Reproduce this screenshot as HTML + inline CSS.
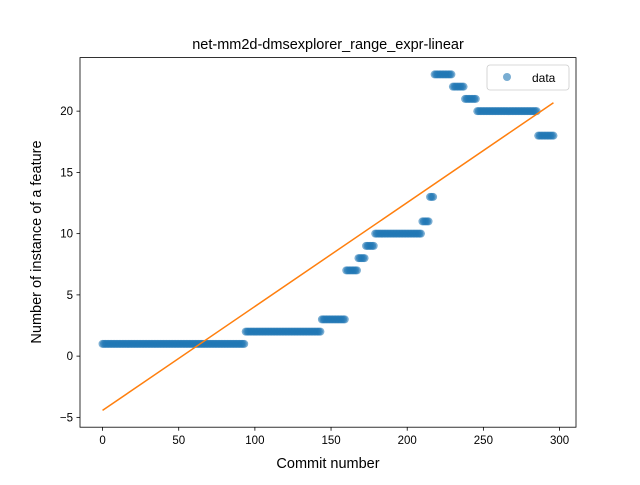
<!DOCTYPE html>
<html><head><meta charset="utf-8"><style>
body{margin:0;background:#fff;}
svg text{font-family:"Liberation Sans","DejaVu Sans",sans-serif;}
</style></head><body>
<svg id="chart" width="640" height="480" viewBox="0 0 640 480" xmlns="http://www.w3.org/2000/svg">
<rect width="640" height="480" fill="#fff"/>
<text x="328" y="49" text-anchor="middle" font-size="14.5" fill="#000">net-mm2d-dmsexplorer_range_expr-linear</text>
<g id="plot"></g>
<rect x="80" y="57.6" width="496" height="369.6" fill="none" stroke="#000" stroke-width="0.8"/>
<g id="axes"></g>
<text x="328" y="468" text-anchor="middle" font-size="14.5">Commit number</text>
<text transform="translate(41,242) rotate(-90)" text-anchor="middle" font-size="14.5">Number of instance of a feature</text>
<g>
<rect x="487" y="65" width="82" height="25" rx="3" fill="#fff" stroke="#ccc" stroke-width="0.8"/>
<circle cx="507" cy="77" r="4" fill="#1f77b4" fill-opacity="0.6"/>
<text x="532" y="82" font-size="12">data</text>
</g>
</svg>
<script>
// segments: [startCommit, endCommit, value]
const segStarts = [0, 94, 144, 160, 168, 173, 179, 210, 215, 218, 230, 238, 246, 286];
const segEnds   = [93, 143, 159, 167, 172, 178, 209, 214, 217, 229, 237, 245, 285, 296];
const segValues = [1, 2, 3, 7, 8, 9, 10, 11, 13, 23, 22, 21, 20, 18];
const xTicks = [0, 50, 100, 150, 200, 250, 300];
const yTicks = [-5, 0, 5, 10, 15, 20];

const NS = "http://www.w3.org/2000/svg";
const L = 80, R = 576, T = 57.6, B = 427.2;
const xs = [], ys = [];
for (let i = 0; i < segStarts.length; i++)
  for (let c = segStarts[i]; c <= segEnds[i]; c++) { xs.push(c); ys.push(segValues[i]); }
const n = xs.length;
const mx = xs.reduce((a,b)=>a+b,0)/n, my = ys.reduce((a,b)=>a+b,0)/n;
let sxy = 0, sxx = 0;
for (let i = 0; i < n; i++) { sxy += (xs[i]-mx)*(ys[i]-my); sxx += (xs[i]-mx)**2; }
const slope = sxy/sxx, icpt = my - slope*mx;
const xmin0 = Math.min(...xs), xmax0 = Math.max(...xs);
const fitY0 = icpt + slope*xmin0, fitY1 = icpt + slope*xmax0;
const ymin0 = Math.min(...ys, fitY0, fitY1), ymax0 = Math.max(...ys, fitY0, fitY1);
const xr = xmax0-xmin0, yr = ymax0-ymin0;
const x0 = xmin0-0.05*xr, x1 = xmax0+0.05*xr, y0 = ymin0-0.05*yr, y1 = ymax0+0.05*yr;
const X = v => L + (v-x0)/(x1-x0)*(R-L);
const Y = v => B - (v-y0)/(y1-y0)*(B-T);

const plot = document.getElementById('plot');
for (let i = 0; i < n; i++) {
  const c = document.createElementNS(NS, 'circle');
  c.setAttribute('cx', X(xs[i])); c.setAttribute('cy', Y(ys[i])); c.setAttribute('r', 4);
  c.setAttribute('fill', '#1f77b4'); c.setAttribute('fill-opacity', '0.6');
  
  
  plot.appendChild(c);
}
const ln = document.createElementNS(NS, 'line');
ln.setAttribute('x1', X(xmin0)); ln.setAttribute('y1', Y(fitY0));
ln.setAttribute('x2', X(xmax0)); ln.setAttribute('y2', Y(fitY1));
ln.setAttribute('stroke', '#ff7f0e'); ln.setAttribute('stroke-width', 1.5);


plot.appendChild(ln);

const axes = document.getElementById('axes');
xTicks.forEach(t => {
  const x = X(t);
  const tk = document.createElementNS(NS, 'line');
  tk.setAttribute('x1', x); tk.setAttribute('x2', x); tk.setAttribute('y1', B); tk.setAttribute('y2', B+3.5);
  tk.setAttribute('stroke', '#000'); tk.setAttribute('stroke-width', 0.8);
  
  
  axes.appendChild(tk);
  const tx = document.createElementNS(NS, 'text');
  tx.setAttribute('x', x); tx.setAttribute('y', B+17); tx.setAttribute('text-anchor', 'middle'); tx.setAttribute('font-size', '11.5');
  tx.textContent = t;
  
  
  axes.appendChild(tx);
});
yTicks.forEach(t => {
  const y = Y(t);
  const tk = document.createElementNS(NS, 'line');
  tk.setAttribute('x1', L-3.5); tk.setAttribute('x2', L); tk.setAttribute('y1', y); tk.setAttribute('y2', y);
  tk.setAttribute('stroke', '#000'); tk.setAttribute('stroke-width', 0.8);
  
  
  axes.appendChild(tk);
  const tx = document.createElementNS(NS, 'text');
  tx.setAttribute('x', L-7); tx.setAttribute('y', y+4); tx.setAttribute('text-anchor', 'end'); tx.setAttribute('font-size', '11.5');
  tx.textContent = t < 0 ? '\u2212' + Math.abs(t) : t;
  
  
  axes.appendChild(tx);
});
</script>
</body></html>
